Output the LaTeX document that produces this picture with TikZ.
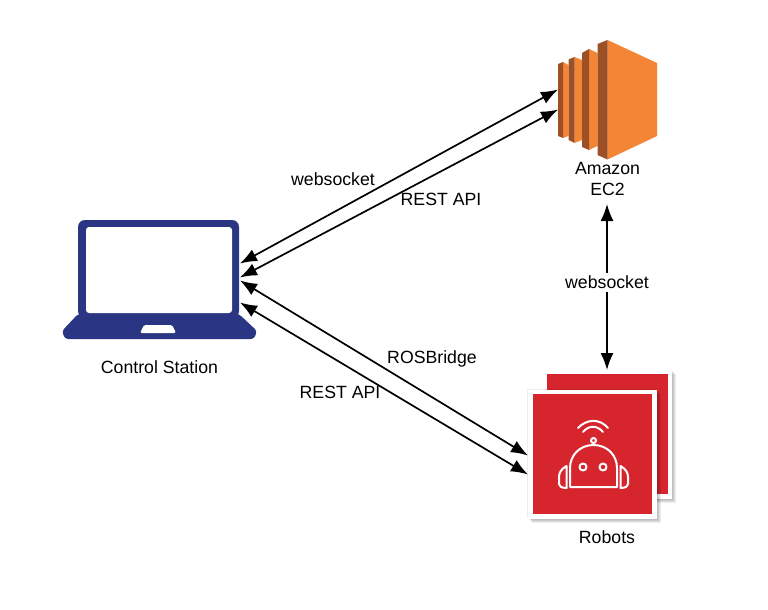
\documentclass[tikz,border=0pt]{standalone}
\usepackage{fontspec}
\setmainfont{Liberation Sans}
\usepackage{xcolor}
\usetikzlibrary{arrows.meta,positioning}
\definecolor{laptopblue}{HTML}{2A3583}
\definecolor{ecorange}{HTML}{F58536}
\definecolor{ecdark}{HTML}{9D5025}
\definecolor{robotred}{HTML}{D6252D}

\begin{document}
\begin{tikzpicture}[
  x=1pt, y=-1pt,
  icon/.style={minimum width=#1, inner sep=0pt, outer sep=0pt},
  caption/.style={align=center, font=\fontsize{17.7}{21}\selectfont, inner sep=1pt},
  arrow/.style={{Latex[length=17pt,width=13pt]}-{Latex[length=17pt,width=13pt]}, line width=1.7pt},
  wire/.style={draw=white, line width=2pt, line cap=round, line join=round}
]
\useasboundingbox (0,0) rectangle (768,610);

% control station
\fill[laptopblue, rounded corners=7pt] (78,318) -- (78,220) -- (239,220) -- (239,318) -- cycle;
\fill[white, rounded corners=3pt] (86,313) -- (86,227) -- (232,227) -- (232,313) -- cycle;
\fill[laptopblue, rounded corners=3pt] (78,314) -- (239,314) -- (257,331) -- (254,339) -- (65,339) -- (62,331) -- cycle;
\fill[white, rounded corners=1.5pt] (144,325) -- (172,325) -- (176,333) -- (140,333) -- cycle;
\node[icon=178pt, minimum height=119pt] (station) at (159.5,279.5) {};
\node[caption, below=20pt of station] (stationlabel) {Control Station};

% ec2
\fill[ecorange] (563,62) -- (568.5,65) -- (568.5,136) -- (563,138) -- cycle;
\fill[ecdark] (558,64) -- (563,62) -- (563,138) -- (558,136) -- cycle;
\fill[ecorange] (574.5,57) -- (582,60) -- (582,140) -- (574.5,143) -- cycle;
\fill[ecdark] (568.5,59.5) -- (574.5,57) -- (574.5,143) -- (568.5,140) -- cycle;
\fill[ecorange] (589,49) -- (597.5,53) -- (597.5,146) -- (589,150) -- cycle;
\fill[ecdark] (582,53) -- (589,49) -- (589,150) -- (582,147) -- cycle;
\fill[ecorange] (607.5,40) -- (657,63) -- (657,136) -- (607.5,159.5) -- cycle;
\fill[ecdark] (597.5,44) -- (607.5,40) -- (607.5,159.5) -- (597.5,155) -- cycle;
\node[icon=99pt, minimum height=120pt] (ec2) at (607.5,100) {};
\node[caption, below=1pt of ec2] (ec2label) {Amazon\\EC2};

% robots
\foreach \d in {1,2,3,4} {
  \fill[black, opacity=.07] (542+\d,370+\d) rectangle (672+\d,499+\d);
}
\fill[white] (542,370) rectangle (672,499);
\fill[robotred] (547,374) rectangle (668,494);
\foreach \d in {-1,1,2,3,4} {
  \fill[black, opacity=.07] (528+\d,390+\d) rectangle (657+\d,519+\d);
}
\fill[white] (528,390) rectangle (657,519);
\fill[robotred] (533,394) rectangle (652,514);
\draw[wire] (570,487) -- (570,468) .. controls (570,455) and (580,445) .. (593.5,445) .. controls (607,445) and (617,455) .. (617,468) -- (617,487) -- cycle;
\draw[wire] (566.5,466) .. controls (561,469) and (559,473) .. (559,477) -- (559,484) .. controls (559,486) and (561,488) .. (566.5,488) -- cycle;
\draw[wire] (620.5,466) .. controls (626,469) and (628,473) .. (628,477) -- (628,484) .. controls (628,486) and (626,488) .. (620.5,488) -- cycle;
\draw[wire] (583,467) circle[radius=3.5];
\draw[wire] (603,467) circle[radius=3.5];
\draw[wire] (593.5,440.5) circle[radius=2.5];
\draw[wire] (583,432) .. controls (589,425) and (597,425) .. (603,432);
\draw[wire] (578,428) .. controls (587,418.5) and (600,418.5) .. (608,428);
\node[icon=145pt, minimum height=149pt] (robots) at (600,445) {};
\node[caption, below=10pt of robots, xshift=7pt] (robotslabel) {Robots};

% connector ends
\coordinate (stationa) at (240,263.5);
\coordinate (stationb) at (240,277.5);
\coordinate (stationc) at (240,280.5);
\coordinate (stationd) at (240,302.5);
\coordinate (ec2a) at (558,89.5);
\coordinate (ec2b) at (558,109.5);
\coordinate (ec2c) at (607,204);
\coordinate (robotsa) at (528,455.5);
\coordinate (robotsb) at (528,474.5);
\coordinate (robotsc) at (607,370);

\draw[arrow] (stationa) -- (ec2a);
\draw[arrow] (stationb) -- (ec2b);
\draw[arrow] (stationc) -- (robotsa);
\draw[arrow] (stationd) -- (robotsb);
\draw[arrow] (ec2c) -- node[caption, fill=white, inner sep=3pt, pos=.47] (websocketb) {websocket} (robotsc);

\node[caption] (websocketa) at (333,179) {websocket};
\node[caption] (restapia) at (441,199) {REST API};
\node[caption] (rosbridge) at (432,359) {ROSBridge};
\node[caption] (restapib) at (340,392) {REST API};
\end{tikzpicture}
\end{document}
